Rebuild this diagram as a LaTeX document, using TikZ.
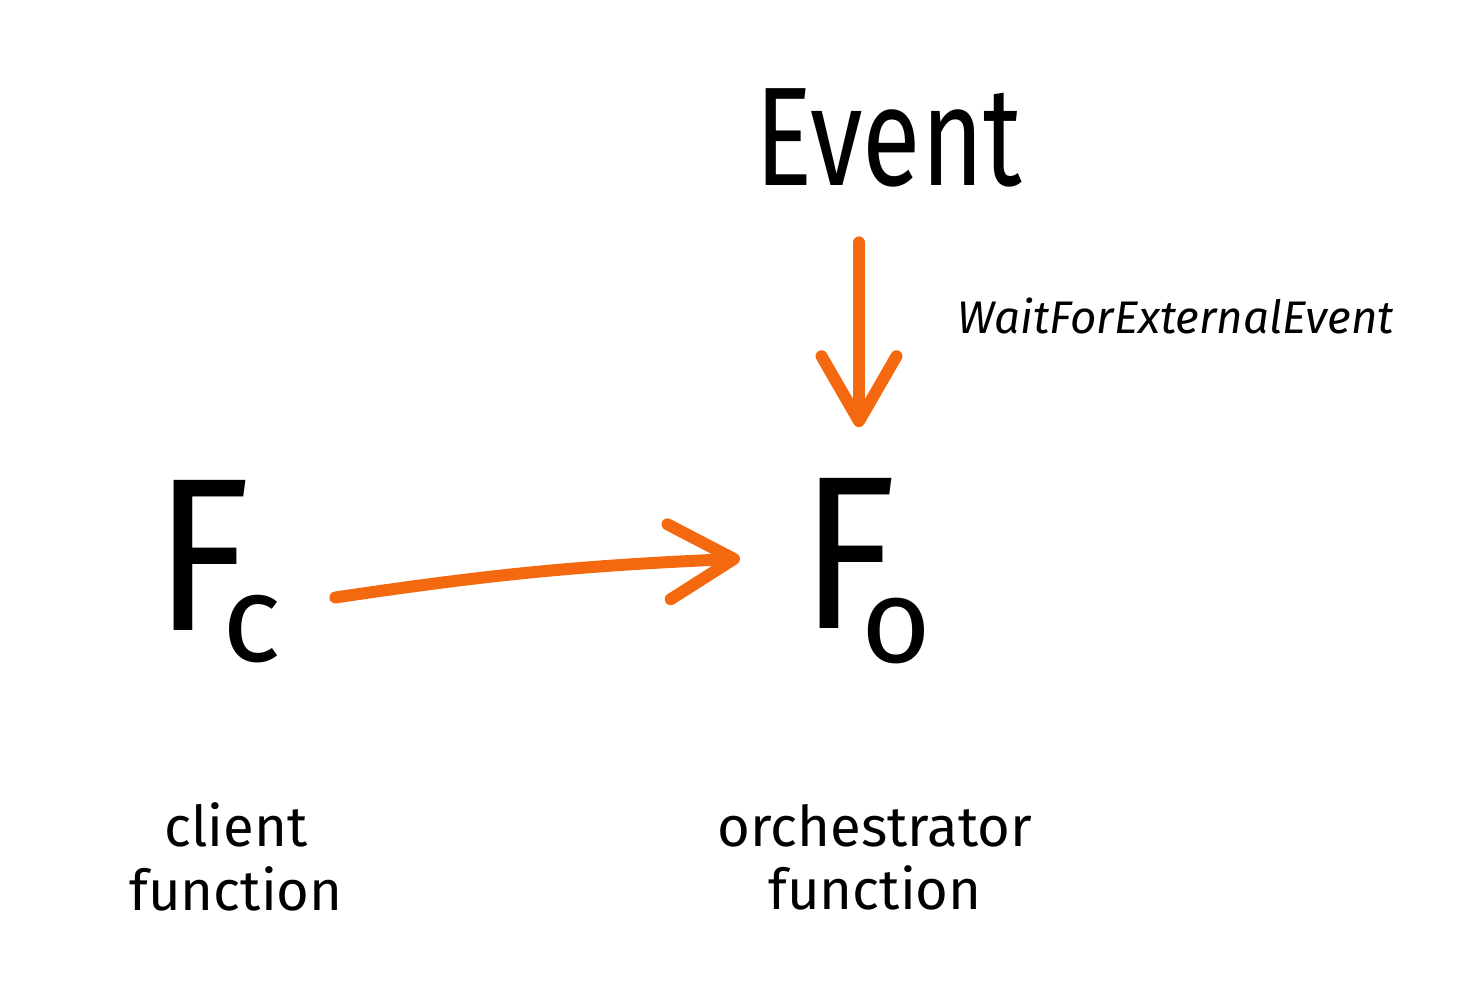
\documentclass[tikz,border=0pt]{standalone}
\usepackage{fontspec}
\setmainfont{Fira Sans}
\usepackage{graphicx}
\usepackage{tikz}
\usetikzlibrary{positioning,arrows.meta}
\definecolor{flame}{HTML}{F4680F}
\definecolor{ink}{HTML}{000000}

\begin{document}
\begin{tikzpicture}[
    flow/.style={flame, line width=3.4pt, line cap=round,
      -{Straight Barb[length=6.5mm, width=7.5mm, round]}},
    big/.style={ink, inner sep=0pt, anchor=base west,
      font=\fontsize{62}{62}\selectfont},
    caption/.style={ink, align=center, font=\fontsize{16}{18}\selectfont}]
  \useasboundingbox (0,0) rectangle (14.7,9.92);
  % the external event
  \node[ink, inner sep=0pt, anchor=base west, font=\fontsize{40}{40}\selectfont]
    (event) at (7.55,8.07) {\scalebox{0.76}[1]{Event}};
  \node[ink, inner sep=0pt, anchor=base west,
    font=\fontsize{13}{13}\selectfont\itshape] (wait) at (9.57,6.59)
    {WaitForExternalEvent};
  % client and orchestrator functions
  \node[big] (fc) at (1.54,3.62)
    {\scalebox{0.9}[1]{F}\kern-8pt\raisebox{-9pt}{\fontsize{35}{35}\selectfont c}};
  \node[big] (fo) at (8.00,3.64)
    {\scalebox{0.9}[1]{F}\kern-10pt\raisebox{-9.7pt}{\fontsize{34}{34}\selectfont o}};
  \node[caption] (client) at (2.36,1.35) {client\\function};
  \node[caption] (orch) at (8.75,1.35) {orchestrator\\function};
  % calls
  \draw[flow, shorten <=5.5mm, shorten >=5.0mm]
    ([xshift=-3mm]event.south) -- ([xshift=-3mm]event.south |- fo.north);
  \draw[flow] ([xshift=5.3mm,yshift=-2.6mm]fc.east) to[bend left=3]
    ([xshift=-6.0mm,yshift=1.2mm]fo.west);
\end{tikzpicture}
\end{document}
